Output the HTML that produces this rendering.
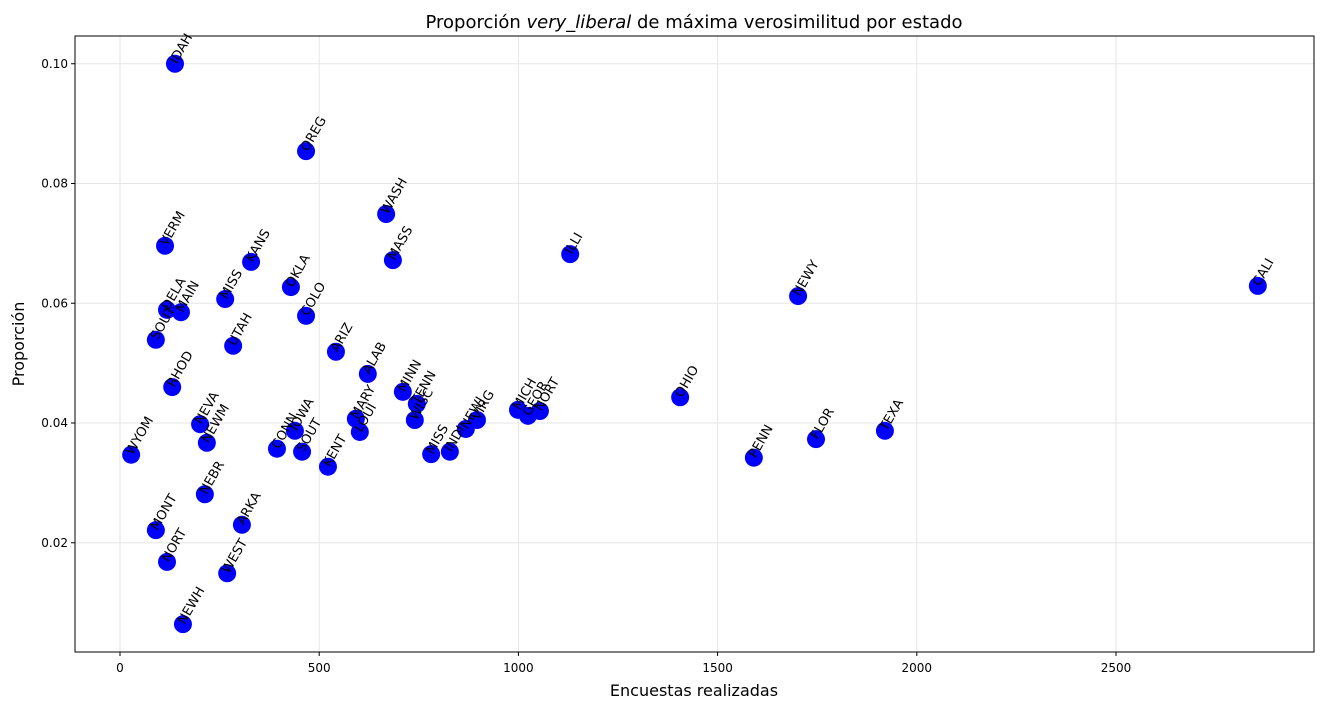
<!DOCTYPE html>
<html><head><meta charset="utf-8"><style>
body{margin:0;background:#fff;font-family:"Liberation Sans","DejaVu Sans",sans-serif;}
</style></head><body>
<svg id="chart" width="1324" height="709" xmlns="http://www.w3.org/2000/svg" font-family="'DejaVu Sans','Liberation Sans',sans-serif">
<text x="694" y="28" font-size="18" text-anchor="middle">Proporción <tspan font-style="italic">very_liberal</tspan> de máxima verosimilitud por estado</text>
<text x="694" y="696" font-size="16" text-anchor="middle">Encuestas realizadas</text>
<text x="24" y="344" font-size="16" text-anchor="middle" transform="rotate(-90 24 344)">Proporción</text>
<g id="grid"></g><g id="ticks"></g><g id="marks"></g><g id="labels"></g>
<rect x="75" y="36" width="1239" height="616" fill="none" stroke="#000" stroke-width="1"/>
</svg>
<script>
const states=["IDAH","OREG","WASH","VERM","KANS","MASS","ILLI","NEWY","CALI","OKLA","DELA","MAIN","MISS","COLO","SOUT","UTAH","ARIZ","ALAB","RHOD","MINN","TENN","WISC","OHIO","MICH","GEOR","NORT","NEVA","MARY","LOUI","IOWA","NEWM","WYOM","CONN","SOUT","KENT","MISS","INDI","NEWJ","VIRG","PENN","FLOR","TEXA","NEBR","MONT","ARKA","NORT","WEST","NEWH"];
const surveys=[138,467,668,113,329,685,1130,1702,2856,429,118,153,264,467,90,284,542,622,131,710,745,740,1406,999,1024,1054,201,592,602,439,218,28,394,457,522,781,828,868,896,1591,1747,1920,213,90,306,118,269,158];
const proportions=[0.1000,0.0854,0.0749,0.0696,0.0669,0.0672,0.0682,0.0612,0.0629,0.0627,0.0589,0.0585,0.0607,0.0579,0.0539,0.0529,0.0519,0.0482,0.0460,0.0452,0.0432,0.0405,0.0443,0.0422,0.0412,0.0420,0.0398,0.0407,0.0385,0.0387,0.0367,0.0347,0.0357,0.0352,0.0327,0.0348,0.0352,0.0390,0.0405,0.0342,0.0373,0.0387,0.0281,0.0221,0.0230,0.0168,0.0149,0.0064];
const xTicks=[0,500,1000,1500,2000,2500];
const yTicks=[0.02,0.04,0.06,0.08,0.10];
const xs=v=>120+v*0.3984;
const ys=v=>423-(v-0.04)*5987.5;
const NS="http://www.w3.org/2000/svg";
function mk(t,a,p){const e=document.createElementNS(NS,t);for(const k in a)e.setAttribute(k,a[k]);p.appendChild(e);return e;}
const grid=document.getElementById('grid'),ticks=document.getElementById('ticks'),marks=document.getElementById('marks'),labels=document.getElementById('labels');
xTicks.forEach(t=>{const x=xs(t);
const g=mk('line',{x1:x,x2:x,y1:36,y2:652,stroke:'#e6e6e6','stroke-width':1},grid);


mk('line',{x1:x,x2:x,y1:652,y2:656,stroke:'#000'},ticks);
const l=mk('text',{x:x,y:672,'font-size':12,'text-anchor':'middle'},ticks);l.textContent=t;

});
yTicks.forEach(t=>{const y=ys(t);
const g=mk('line',{x1:75,x2:1314,y1:y,y2:y,stroke:'#e6e6e6','stroke-width':1},grid);


mk('line',{x1:71,x2:75,y1:y,y2:y,stroke:'#000'},ticks);
const l=mk('text',{x:68,y:y+4,'font-size':12,'text-anchor':'end'},ticks);l.textContent=t.toFixed(2);

});
states.forEach((s,i)=>{const x=xs(surveys[i]),y=ys(proportions[i]);
const c=mk('circle',{cx:x,cy:y,r:9,fill:'#0000ff'},marks);

});
states.forEach((s,i)=>{const x=xs(surveys[i]),y=ys(proportions[i]);
const t=mk('text',{x:x,y:y,dy:'0.15em','font-size':13,transform:`rotate(-60 ${x} ${y})`},labels);t.textContent=s;

});
</script>
</body></html>
